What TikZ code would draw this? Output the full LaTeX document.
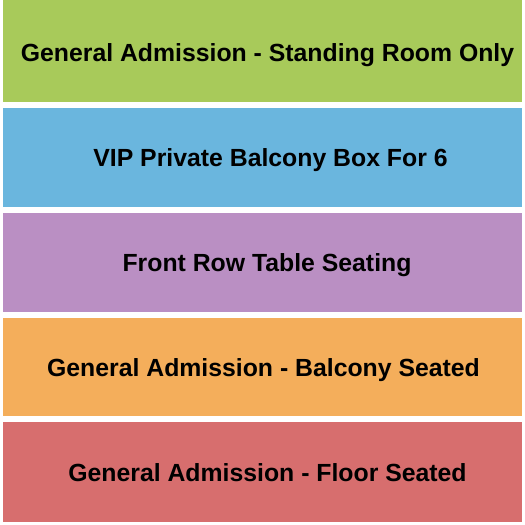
\documentclass[tikz,border=0pt]{standalone}
\usepackage{fontspec}
\setmainfont{Liberation Sans}
\definecolor{cgreen}{RGB}{168,202,90}
\definecolor{cblue}{RGB}{106,182,222}
\definecolor{cpurple}{RGB}{186,143,195}
\definecolor{corange}{RGB}{244,174,91}
\definecolor{cred}{RGB}{215,110,110}
\begin{document}
\begin{tikzpicture}[x=1pt,y=-1pt,
  lbl/.style={font=\bfseries\fontsize{24.8}{28}\selectfont,text=black,inner sep=0pt,anchor=base}]
\useasboundingbox (0,0) rectangle (525,525);
\fill[white] (0,0) rectangle (525,525);
\fill[cgreen]  (3,0)   rectangle (522,102);
\fill[cblue]   (3,108) rectangle (522,207);
\fill[cpurple] (3,213) rectangle (522,312);
\fill[corange] (3,318) rectangle (522,416);
\fill[cred]    (3,422) rectangle (522,522);
\node[lbl] (t1) at (267.5,61) {General Admission - Standing Room Only};
\node[lbl] (t2) at (270.5,166.5) {VIP Private Balcony Box For 6};
\node[lbl] (t3) at (267,271.5) {Front Row Table Seating};
\node[lbl] (t4) at (263.5,376.5) {General Admission - Balcony Seated};
\node[lbl] (t5) at (267.5,481.5) {General Admission - Floor Seated};
\end{tikzpicture}
\end{document}
